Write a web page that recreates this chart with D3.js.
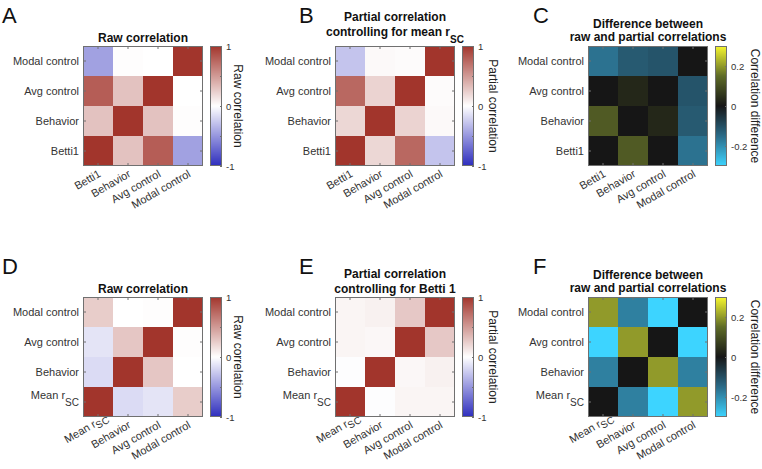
<!DOCTYPE html>
<html><head><meta charset="utf-8">
<script src="https://cdn.jsdelivr.net/npm/d3@7"></script>
<style>
body{margin:0;background:#fff}
svg{display:block}
text{font-family:"Liberation Sans",Arial,Helvetica,sans-serif}
</style>
</head><body>
<svg id="c" width="762" height="469"></svg>
<script>
// ---------- data ----------
const varsTop = ["Betti1", "Behavior", "Avg control", "Modal control"];
const varsBottom = ["Mean r_SC", "Behavior", "Avg control", "Modal control"];

// rows/cols follow the order of the variable list (index 0 = bottom row / left column)
const rawA = [
  [1.00, 0.30, 0.80, -0.45],
  [0.30, 1.00, 0.30, 0.01],
  [0.80, 0.30, 1.00, 0.00],
  [-0.45, 0.01, 0.00, 1.00]
];
const partialB = [
  [1.00, 0.20, 0.75, -0.28],
  [0.20, 1.00, 0.22, 0.03],
  [0.75, 0.22, 1.00, 0.02],
  [-0.28, 0.03, 0.02, 1.00]
];
const diffC = [
  [0.00, 0.12, 0.00, -0.16],
  [0.12, 0.00, 0.03, -0.12],
  [0.00, 0.03, 0.00, -0.11],
  [-0.16, -0.12, -0.11, 0.00]
];
const rawD = [
  [1.00, -0.17, -0.13, 0.25],
  [-0.17, 1.00, 0.28, 0.00],
  [-0.13, 0.28, 1.00, 0.01],
  [0.25, 0.00, 0.01, 1.00]
];
const partialE = [
  [1.00, -0.01, 0.05, 0.05],
  [-0.01, 1.00, 0.04, 0.07],
  [0.05, 0.04, 1.00, 0.27],
  [0.05, 0.07, 0.27, 1.00]
];
const diffF = [
  [0.00, -0.18, -0.30, 0.20],
  [-0.18, 0.00, 0.20, -0.18],
  [-0.30, 0.20, 0.00, -0.30],
  [0.20, -0.18, -0.30, 0.00]
];

const corrTicks = [-1, -0.5, 0, 0.5, 1];
const corrTickLabels = [-1, 0, 1];
const diffTicks = [-0.2, 0, 0.2];
const diffTickLabels = [-0.2, 0, 0.2];

// ---------- colour maps ----------
const corrColor = d3.scaleLinear().domain([-1, 0, 1])
  .range(["#2d2dbd", "#ffffff", "#a2352c"]).clamp(true);
const diffColor = d3.scaleLinear().domain([-0.3, -0.15, 0, 0.15, 0.3])
  .range(["#3dd4ff", "#2b6b88", "#161616", "#5e6b27", "#f7f72f"]).clamp(true);

// ---------- panels ----------
const panels = [
  {letter: "A", lx: 2, ly: 23, x0: 83, y0: 46, vars: varsTop, m: rawA, color: corrColor,
   cbDomain: [-1, 1], cbTicks: corrTicks, cbTickLabels: corrTickLabels, cbLabel: "Raw correlation", cbLabelDx: 24,
   title: [{y: 42, parts: [["Raw correlation", 12, 0]]}]},
  {letter: "B", lx: 299, ly: 23, x0: 335, y0: 46, vars: varsTop, m: partialB, color: corrColor,
   cbDomain: [-1, 1], cbTicks: corrTicks, cbTickLabels: corrTickLabels, cbLabel: "Partial correlation", cbLabelDx: 27,
   title: [{y: 21, parts: [["Partial correlation", 12, 0]]},
           {y: 36, parts: [["controlling for mean r", 12, 0], ["SC", 10, 7]]}]},
  {letter: "C", lx: 533, ly: 23, x0: 588, y0: 46, vars: varsTop, m: diffC, color: diffColor,
   cbDomain: [-0.3, 0.3], cbTicks: diffTicks, cbTickLabels: diffTickLabels, cbLabel: "Correlation difference", cbLabelDx: 36,
   title: [{y: 28, parts: [["Difference between", 12, 0]]},
           {y: 41, parts: [["raw and partial correlations", 12, 0]]}]},
  {letter: "D", lx: 2, ly: 274, x0: 83, y0: 297, vars: varsBottom, m: rawD, color: corrColor,
   cbDomain: [-1, 1], cbTicks: corrTicks, cbTickLabels: corrTickLabels, cbLabel: "Raw correlation", cbLabelDx: 24,
   title: [{y: 293, parts: [["Raw correlation", 12, 0]]}]},
  {letter: "E", lx: 299, ly: 274, x0: 335, y0: 297, vars: varsBottom, m: partialE, color: corrColor,
   cbDomain: [-1, 1], cbTicks: corrTicks, cbTickLabels: corrTickLabels, cbLabel: "Partial correlation", cbLabelDx: 27,
   title: [{y: 278, parts: [["Partial correlation", 12, 0]]},
           {y: 293, parts: [["controlling for Betti 1", 12, 0]]}]},
  {letter: "F", lx: 533, ly: 274, x0: 588, y0: 297, vars: varsBottom, m: diffF, color: diffColor,
   cbDomain: [-0.3, 0.3], cbTicks: diffTicks, cbTickLabels: diffTickLabels, cbLabel: "Correlation difference", cbLabelDx: 36,
   title: [{y: 279, parts: [["Difference between", 12, 0]]},
           {y: 292, parts: [["raw and partial correlations", 12, 0]]}]}
];

const svg = d3.select("#c");
svg.append("rect").attr("width", 762).attr("height", 469).attr("fill", "#fff");

const AX = "#707070", TXT = "#333333", S = 120;

function drawPanel(p) {
  const g = svg.append("g");
  const x = d3.scaleBand().domain(p.vars).range([p.x0, p.x0 + S]);
  const y = d3.scaleBand().domain(p.vars).range([p.y0 + S, p.y0]);
  const cells = [];
  p.vars.forEach((r, i) => p.vars.forEach((c, j) => cells.push({r, c, v: p.m[i][j]})));
  g.selectAll("rect.cell").data(cells).join("rect").attr("class", "cell")
    .attr("x", d => x(d.c)).attr("y", d => y(d.r))
    .attr("width", x.bandwidth()).attr("height", y.bandwidth())
    .attr("fill", d => p.color(d.v)).attr("shape-rendering", "crispEdges");

  const axL = g.append("g").attr("transform", `translate(${p.x0},0)`)
    .call(d3.axisLeft(y).tickSizeInner(-3).tickSizeOuter(0).tickPadding(4));
  const axR = g.append("g").attr("transform", `translate(${p.x0 + S},0)`)
    .call(d3.axisRight(y).tickSizeInner(-3).tickSizeOuter(0).tickFormat(""));
  const axT = g.append("g").attr("transform", `translate(0,${p.y0})`)
    .call(d3.axisTop(x).tickSizeInner(-3).tickSizeOuter(0).tickFormat(""));
  const axB = g.append("g").attr("transform", `translate(0,${p.y0 + S})`)
    .call(d3.axisBottom(x).tickSizeInner(-3).tickSizeOuter(0).tickFormat(""));
  [axL, axR, axT, axB].forEach(a => {
    a.select(".domain").remove();
    a.selectAll(".tick line").attr("stroke", AX);
  });
  axL.selectAll(".tick text").attr("font-size", 11).attr("fill", TXT).attr("font-family", null)
    .each(function(d) {
      const t = d3.select(this);
      if (d.includes("_")) {
        const [a, b] = d.split("_");
        t.text(null).attr("dy", null).attr("y", -3);
        t.append("tspan").text(a);
        t.append("tspan").attr("font-size", 10).attr("dy", 7).text(b);
      }
    });
  // border
  g.append("rect").attr("x", p.x0 + 0.5).attr("y", p.y0 + 0.5)
    .attr("width", S - 1).attr("height", S - 1)
    .attr("fill", "none").attr("stroke", AX).attr("stroke-width", 1);

  // rotated x labels
  g.selectAll("text.xl").data(p.vars).join("text").attr("class", "xl")
    .attr("transform", d => {
      const cx = x(d) + x.bandwidth() / 2 + 3.5, cy = p.y0 + S + 10;
      return `translate(${cx},${cy}) rotate(-30)` + (d.includes("_") ? " translate(10,-3)" : "");
    })
    .attr("text-anchor", "end").attr("font-size", 11).attr("fill", TXT)
    .each(function(d) {
      const t = d3.select(this);
      if (d.includes("_")) {
        const [a, b] = d.split("_");
        t.append("tspan").text(a);
        t.append("tspan").attr("font-size", 10).attr("dy", 3).text(b);
      } else t.text(d);
    });

  // title
  const cx = p.x0 + S / 2;
  p.title.forEach(line => {
    const t = g.append("text").attr("x", cx).attr("y", line.y).attr("text-anchor", "middle")
      .attr("font-weight", "bold").attr("fill", "#111");
    line.parts.forEach(([s, fs, dy]) => {
      t.append("tspan").attr("font-size", fs).attr("dy", dy || null).text(s);
    });
  });

  // panel letter
  g.append("text").attr("x", p.lx).attr("y", p.ly).attr("font-size", 22).attr("fill", "#111").text(p.letter);

  // colorbar
  const cbX = p.x0 + 127, cbW = 12;
  const cyS = d3.scaleLinear().domain(p.cbDomain).range([p.y0 + S, p.y0]);
  g.selectAll("rect.cb").data(d3.range(S)).join("rect").attr("class", "cb")
    .attr("x", cbX).attr("y", d => p.y0 + d).attr("width", cbW).attr("height", 1.2)
    .attr("fill", d => p.color(cyS.invert(p.y0 + d + 0.5))).attr("shape-rendering", "crispEdges");
  g.append("rect").attr("x", cbX + 0.5).attr("y", p.y0 + 0.5).attr("width", cbW - 1).attr("height", S - 1)
    .attr("fill", "none").attr("stroke", AX);
  const axC = g.append("g").attr("transform", `translate(${cbX + cbW},0)`)
    .call(d3.axisRight(cyS).tickValues(p.cbTicks).tickSizeInner(-2).tickSizeOuter(0).tickPadding(4)
      .tickFormat(d => p.cbTickLabels.includes(d) ? String(d) : ""));
  axC.select(".domain").remove();
  axC.selectAll(".tick line").attr("stroke", AX);
  axC.selectAll(".tick text").attr("font-size", 9.5).attr("fill", TXT).attr("font-family", null);
  g.append("text").attr("transform", `translate(${cbX + p.cbLabelDx},${p.y0 + S / 2}) rotate(90)`)
    .attr("text-anchor", "middle").attr("font-size", 12).attr("fill", "#222").text(p.cbLabel);
}

panels.forEach(drawPanel);
</script>
</body></html>
